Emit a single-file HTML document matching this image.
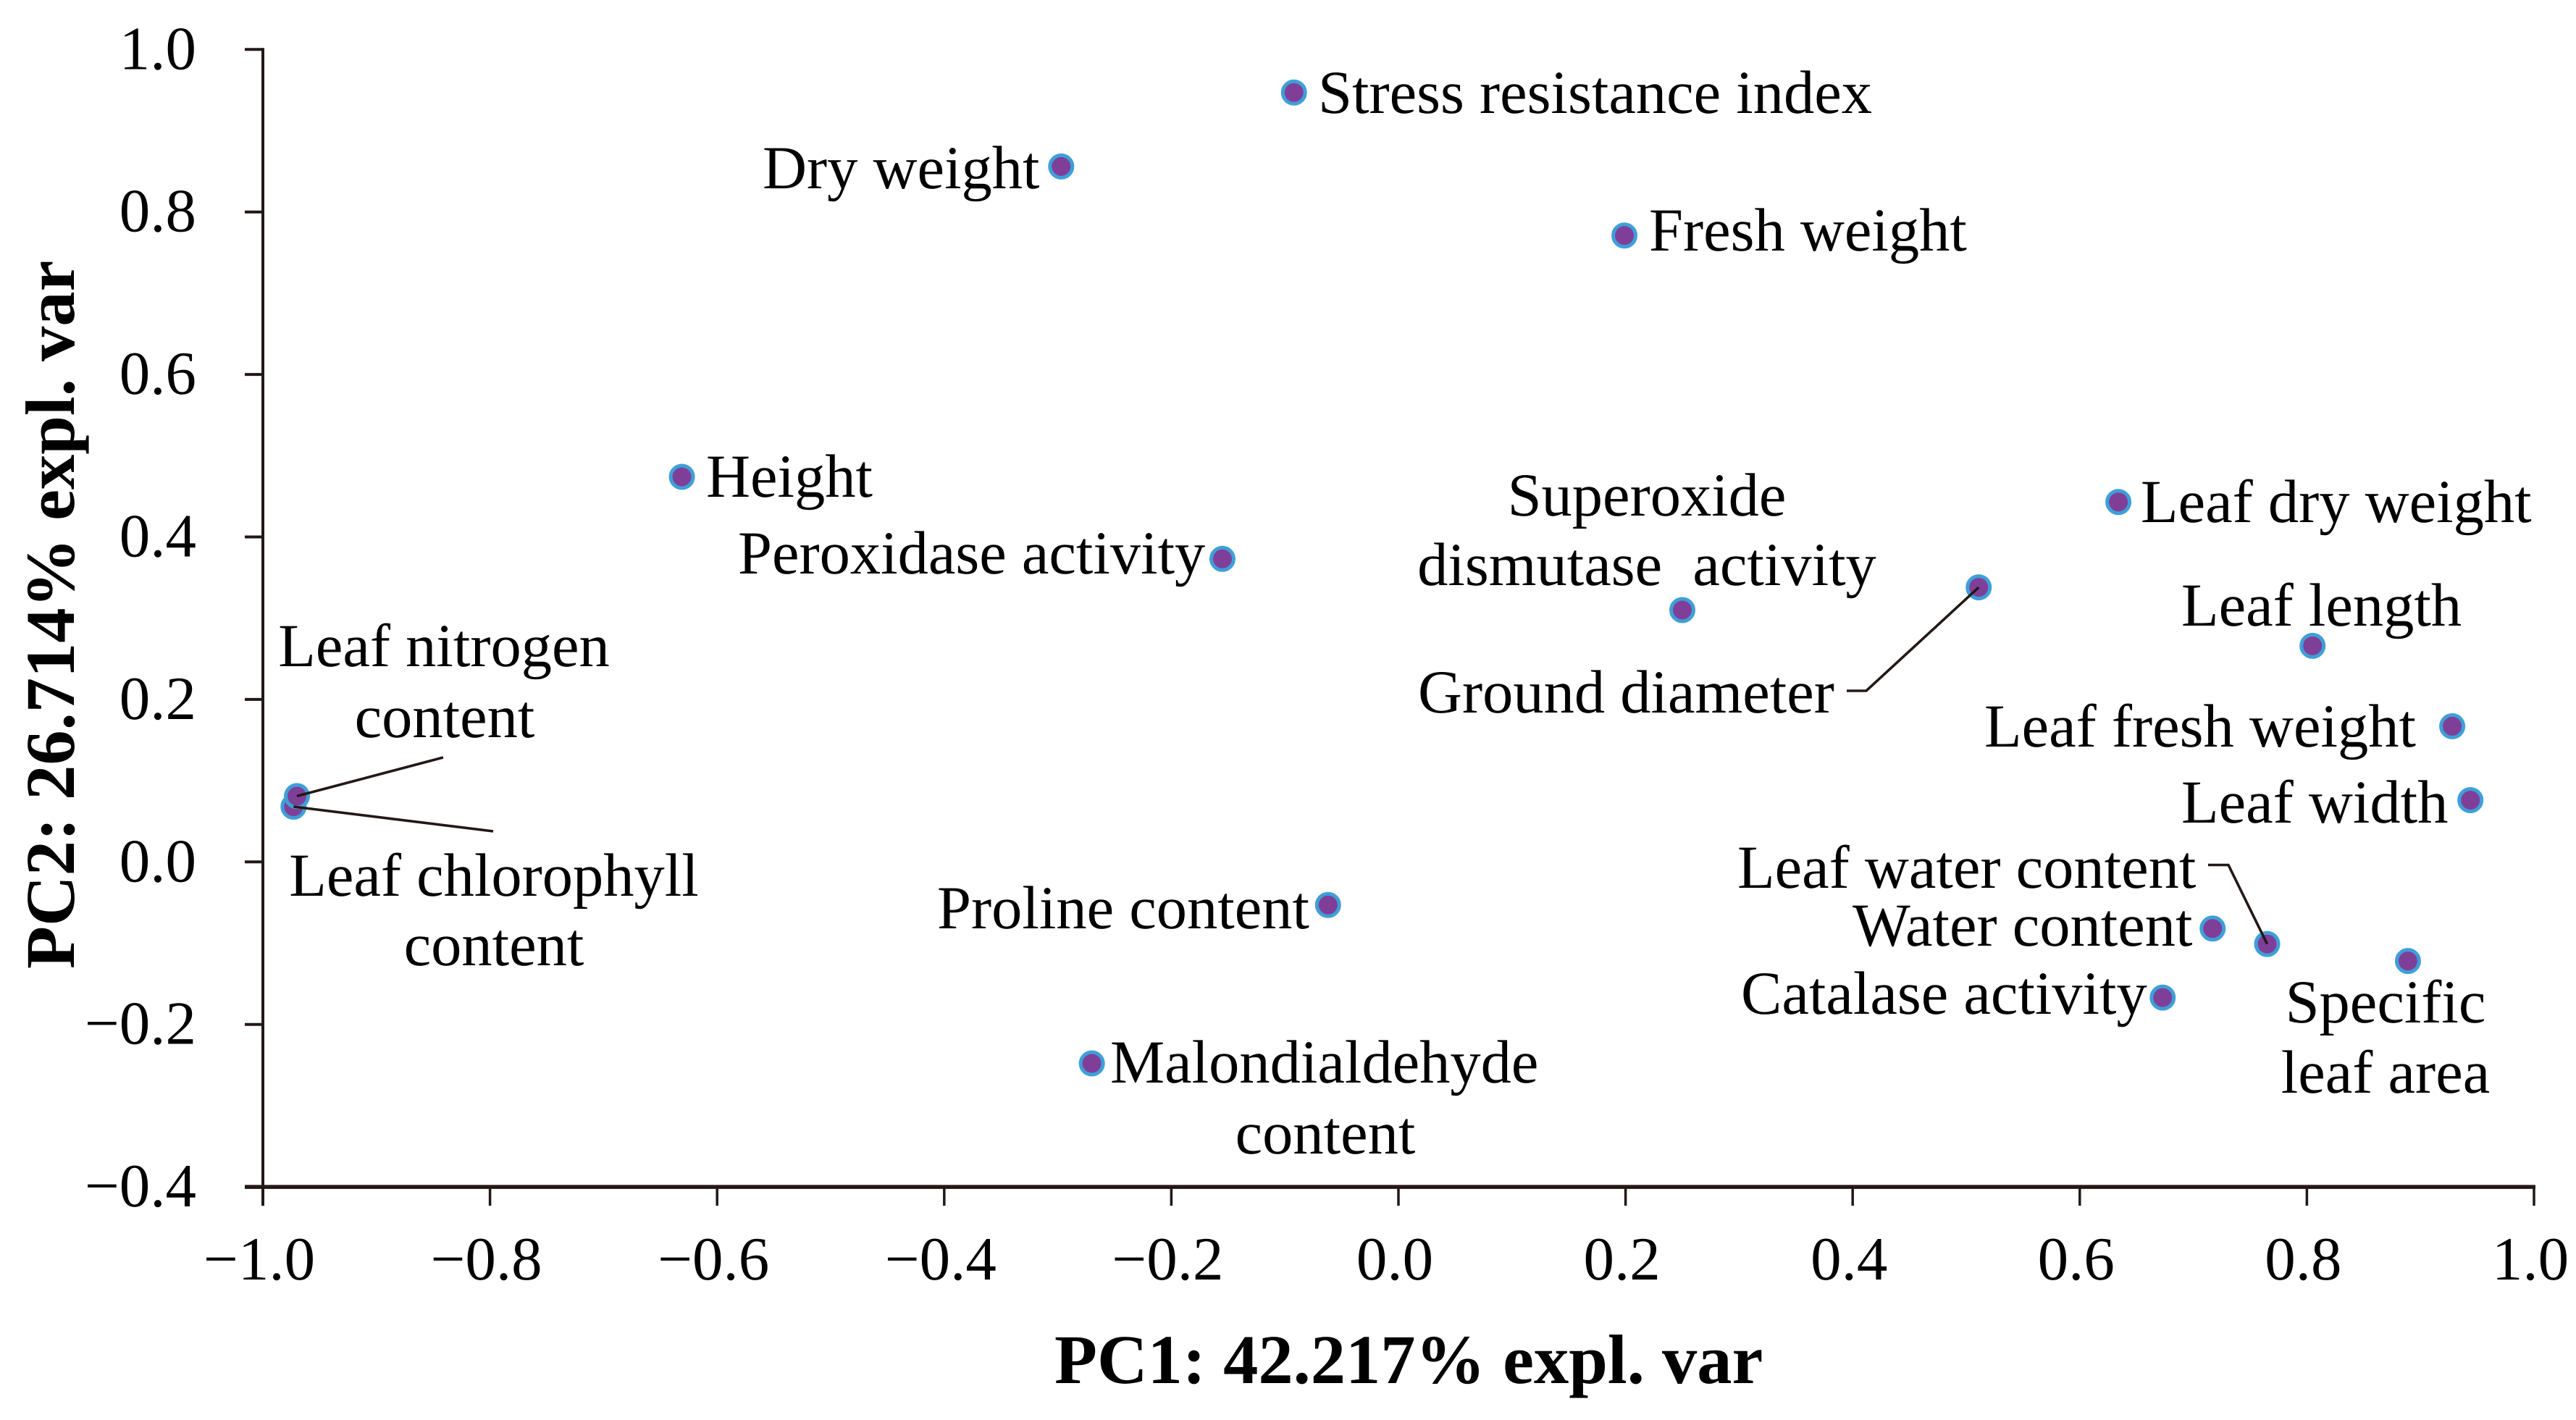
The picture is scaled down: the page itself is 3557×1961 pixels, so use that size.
<!DOCTYPE html>
<html lang="en">
<head>
<meta charset="utf-8">
<title>PCA loading plot</title>
<style>
html,body{margin:0;padding:0;background:#fff;}
body{width:3557px;height:1961px;overflow:hidden;}
svg{display:block;}
text{font-family:"Liberation Serif",serif;fill:#000;text-rendering:geometricPrecision;}
.lab{font-size:84.5px;}
.tick{font-size:85px;}
.title{font-size:96.5px;font-weight:bold;}
</style>
</head>
<body>
<svg id="chart" xmlns="http://www.w3.org/2000/svg" width="3557" height="1961" viewBox="0 0 3557 1961">
  <rect x="0" y="0" width="3557" height="1961" fill="#fff"/>
  <g id="axes"></g>
  <g id="tick-labels"></g>
  <g id="points"></g>
  <g id="leaders"></g>

  <text class="title" x="1456" y="1910">PC1: 42.217% expl. var</text>
  <text class="title" transform="translate(102 1338) rotate(-90)">PC2: 26.714% expl. var</text>

  <g>
    <text class="lab" x="1820" y="156">Stress resistance index</text>
    <text class="lab" x="1053" y="260">Dry weight</text>
    <text class="lab" x="2277" y="346">Fresh weight</text>
    <text class="lab" x="975" y="686">Height</text>
    <text class="lab" x="1019" y="792">Peroxidase activity</text>
    <text class="lab" x="2274" y="712" text-anchor="middle">Superoxide</text>
    <text class="lab" x="2274" y="808" text-anchor="middle">dismutase&#160; activity</text>
    <text class="lab" x="1958" y="984">Ground diameter</text>
    <text class="lab" x="2956" y="721">Leaf dry weight</text>
    <text class="lab" x="3012" y="864">Leaf length</text>
    <text class="lab" x="2740" y="1031">Leaf fresh weight</text>
    <text class="lab" x="3012" y="1136">Leaf width</text>
    <text class="lab" x="613" y="920" text-anchor="middle">Leaf nitrogen</text>
    <text class="lab" x="614" y="1018" text-anchor="middle">content</text>
    <text class="lab" x="682" y="1237" text-anchor="middle">Leaf chlorophyll</text>
    <text class="lab" x="682" y="1333" text-anchor="middle">content</text>
    <text class="lab" x="1294" y="1282">Proline content</text>
    <text class="lab" x="1533" y="1495">Malondialdehyde</text>
    <text class="lab" x="1830" y="1593" text-anchor="middle">content</text>
    <text class="lab" x="2399" y="1226">Leaf water content</text>
    <text class="lab" x="2558" y="1306">Water content</text>
    <text class="lab" x="2404" y="1400">Catalase activity</text>
    <text class="lab" x="3294" y="1412" text-anchor="middle">Specific</text>
    <text class="lab" x="3294" y="1509" text-anchor="middle">leaf area</text>
  </g>
</svg>
<script>
const variableNames = ["stress-resistance-index","dry-weight","fresh-weight","height","peroxidase-activity","superoxide-dismutase-activity","ground-diameter","leaf-dry-weight","leaf-length","leaf-fresh-weight","leaf-width","leaf-chlorophyll-content","leaf-nitrogen-content","proline-content","malondialdehyde-content","water-content","leaf-water-content","specific-leaf-area","catalase-activity"];
const pc1Values = [-0.092,-0.297,0.199,-0.631,-0.155,0.250,0.511,0.634,0.805,0.928,0.944,-0.973,-0.970,-0.062,-0.270,0.717,0.765,0.889,0.673];
const pc2Values = [0.947,0.856,0.771,0.474,0.373,0.310,0.338,0.443,0.266,0.167,0.076,0.068,0.081,-0.053,-0.248,-0.082,-0.101,-0.122,-0.167];
const xTickValues = [-1,-0.8,-0.6,-0.4,-0.2,0,0.2,0.4,0.6,0.8,1];
const xTickLabels = ["\u22121.0","\u22120.8","\u22120.6","\u22120.4","\u22120.2","0.0","0.2","0.4","0.6","0.8","1.0"];
const yTickValues = [1,0.8,0.6,0.4,0.2,0,-0.2,-0.4];
const yTickLabels = ["1.0","0.8","0.6","0.4","0.2","0.0","\u22120.2","\u22120.4"];

const NS = "http://www.w3.org/2000/svg";
const INK = "#231815";
const xScale = v => 363 + (v + 1) * 1568;
const yScale = v => 1190.3 - v * 1122;
const axes = document.getElementById("axes");
const tickLabels = document.getElementById("tick-labels");
const pointsGroup = document.getElementById("points");
const leaders = document.getElementById("leaders");

function line(parent, x1, y1, x2, y2, w) {
  const el = document.createElementNS(NS, "line");
  el.setAttribute("x1", x1);
  el.setAttribute("y1", y1);
  el.setAttribute("x2", x2);
  el.setAttribute("y2", y2);
  el.setAttribute("stroke", INK);
  el.setAttribute("stroke-width", w);
  parent.appendChild(el);
  return el;
}

const yAxisLine = line(axes, xScale(-1), yScale(1) - 2, xScale(-1), yScale(-0.4) + 26, 4);


const xAxisLine = line(axes, xScale(-1) - 25, yScale(-0.4), xScale(1) + 2, yScale(-0.4), 5.5);



xTickValues.forEach((v, i) => {
  const t = line(axes, xScale(v), yScale(-0.4), xScale(v), yScale(-0.4) + 26, 3.5);
  
  
  const label = document.createElementNS(NS, "text");
  label.setAttribute("class", "tick");
  label.setAttribute("x", xScale(v) - 5);
  label.setAttribute("y", 1767);
  label.setAttribute("text-anchor", "middle");
  label.textContent = xTickLabels[i];
  
  
  tickLabels.appendChild(label);
});

yTickValues.forEach((v, i) => {
  const t = line(axes, xScale(-1) - 25, yScale(v), xScale(-1), yScale(v), 4);
  
  
  const label = document.createElementNS(NS, "text");
  label.setAttribute("class", "tick");
  label.setAttribute("x", 271);
  label.setAttribute("y", yScale(v) + 27);
  label.setAttribute("text-anchor", "end");
  label.textContent = yTickLabels[i];
  
  
  tickLabels.appendChild(label);
});

variableNames.forEach((name, i) => {
  const c = document.createElementNS(NS, "circle");
  c.setAttribute("cx", xScale(pc1Values[i]));
  c.setAttribute("cy", yScale(pc2Values[i]));
  c.setAttribute("r", 15.5);
  c.setAttribute("fill", "#7f3f98");
  c.setAttribute("stroke", "#3f9fd8");
  c.setAttribute("stroke-width", 5);
  
  
  pointsGroup.appendChild(c);
});

function leaderPath(name, tail) {
  const i = variableNames.indexOf(name);
  const el = document.createElementNS(NS, "polyline");
  el.setAttribute("points", tail + " " + xScale(pc1Values[i]) + "," + yScale(pc2Values[i]));
  el.setAttribute("fill", "none");
  el.setAttribute("stroke", INK);
  el.setAttribute("stroke-width", 3.6);
  
  
  leaders.appendChild(el);
}
leaderPath("leaf-nitrogen-content", "612,1046");
leaderPath("leaf-chlorophyll-content", "681,1148");
leaderPath("ground-diameter", "2550,954 2577,954");
leaderPath("leaf-water-content", "3049,1194.5 3077,1194.5");
</script>
</body>
</html>
